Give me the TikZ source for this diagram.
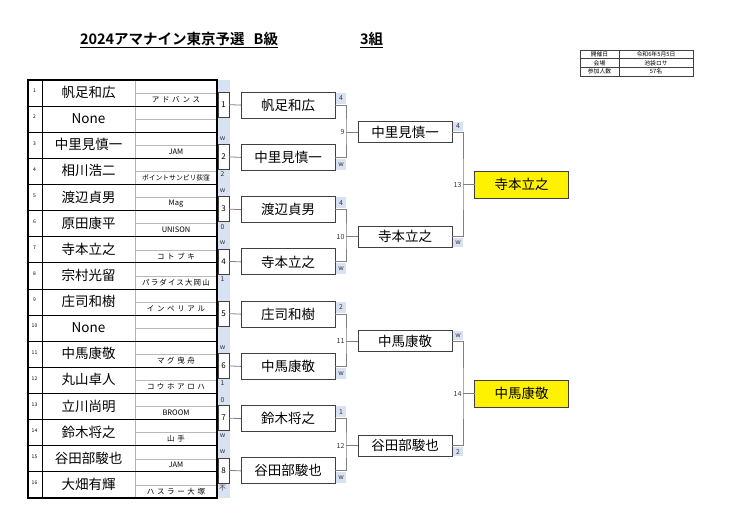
\documentclass[tikz,border=0pt]{standalone}
\usepackage{fontspec}
\setmainfont{Noto Sans CJK JP}[BoldFont={Noto Sans CJK JP Bold}]
\newfontfamily\teamfont{Noto Sans CJK JP}[LetterSpace=35]
\newfontfamily\latteam{Noto Sans CJK JP}
\definecolor{sblue}{HTML}{D9E2F2}
\definecolor{bline}{HTML}{808080}
\definecolor{bbox}{HTML}{404040}
\definecolor{txtgrey}{HTML}{333333}
\begin{document}
\begin{tikzpicture}[x=1pt,y=-1pt,
  every node/.style={inner sep=0pt, outer sep=0pt},
  tline/.style={black, line width=1pt},
  gline/.style={draw=gray!55, line width=0.4pt},
  numlab/.style={font=\fontsize{5}{5}\selectfont},
  namelab/.style={font=\fontsize{13.5}{14}\selectfont},
  teamlab/.style={font=\fontsize{7.5}{8}\selectfont},
  numbox/.style={draw=bbox, fill=white, line width=0.6pt, minimum width=11pt, minimum height=25pt, font=\fontsize{8}{8}\selectfont},
  slab/.style={font=\fontsize{6.8}{7}\selectfont, text=txtgrey},
  rbox/.style={draw=bbox, line width=0.8pt, minimum width=94pt, minimum height=26pt, font=\fontsize{13.5}{14}\selectfont},
  sbox/.style={rbox, minimum height=21pt},
  fbox/.style={rbox, fill=yellow, minimum height=27pt},
  bracket/.style={draw=bline, line width=0.8pt},
  mlab/.style={font=\fontsize{7}{7}\selectfont, text=txtgrey, anchor=east},
  sclab/.style={font=\fontsize{6.8}{7}\selectfont, text=txtgrey},
  infocell/.style={draw=bbox, line width=0.6pt, minimum height=8.67pt, font=\fontsize{5.8}{6}\selectfont},
  titlefont/.style={font=\fontsize{14.5}{15}\selectfont\bfseries}
]
\useasboundingbox (0,0) rectangle (740,523);

% title
\node[titlefont, anchor=base west] (title) at (80,44.5) {\underline{2024アマナイン東京予選\hspace{9pt}B級}};
\node[titlefont, anchor=base west] (group) at (360,44.5) {\underline{3組}};

% info table
\node[infocell, minimum width=39pt] (i11) at (599.5,54.33) {開催日};
\node[infocell, minimum width=74pt] (i12) at (656,54.33) {令和6年5月5日};
\node[infocell, minimum width=39pt] (i21) at (599.5,63) {会場};
\node[infocell, minimum width=74pt] (i22) at (656,63) {池袋ロサ};
\node[infocell, minimum width=39pt] (i31) at (599.5,71.67) {参加人数};
\node[infocell, minimum width=74pt] (i32) at (656,71.67) {57名};

% score strip
\fill[sblue] (217,80) rectangle (229.5,498);

% table grid
\foreach \i in {1,...,16} {
  \pgfmathsetmacro\ym{80+(\i-1)*26.125+13.06}
  \draw[gline] (135,\ym) -- (217,\ym);
}
\draw[gray!60, line width=0.5pt] (135,80) -- (135,498);
\foreach \i in {1,...,15} {
  \pgfmathsetmacro\yb{80+\i*26.125}
  \draw[tline] (28,\yb) -- (217,\yb);
}
\draw[tline] (42,80) -- (42,498);
\draw[black, line width=1.3pt] (28,80) rectangle (217,498);

% rows
\foreach \i/\nm/\tm in {1/帆足和広/{\teamfont アドバンス}, 2/None/{}, 3/中里見慎一/{\latteam JAM}, 4/相川浩二/{\latteam\fontsize{6.8}{7}\selectfont ポイントサンピリ荻窪},
  5/渡辺貞男/{\latteam Mag}, 6/原田康平/{\latteam UNISON}, 7/寺本立之/{\teamfont コトブキ}, 8/宗村光留/{\teamfont\addfontfeatures{LetterSpace=15}パラダイス大岡山},
  9/庄司和樹/{\teamfont インペリアル}, 10/None/{}, 11/中馬康敬/{\teamfont マグ曳舟}, 12/丸山卓人/{\teamfont コウホアロハ},
  13/立川尚明/{\latteam BROOM}, 14/鈴木将之/{\teamfont 山手}, 15/谷田部駿也/{\latteam JAM}, 16/大畑有輝/{\teamfont ハスラー大塚}} {
  \pgfmathsetmacro\yt{80+(\i-1)*26.125}
  \node[numlab] (no\i) at (34.5,\yt+11) {\i};
  \node[namelab] (n\i) at (88.5,\yt+12.5) {\nm};
  \node[teamlab] (t\i) at (176,\yt+19.5) {\tm};
}

% first-round match boxes
\foreach \k/\sa/\sb in {1/{}/{}, 2/w/2, 3/w/0, 4/w/1, 5/{}/{}, 6/w/1, 7/0/w, 8/w/不} {
  \pgfmathsetmacro\c{80+(\k-1)*52.25+26.125}
  \node[numbox] (m\k) at (223.5,\c-1.5) {\k};
  \node[slab] (ta\k) at (222.5,\c-20) {\sa};
  \node[slab] (tb\k) at (222.5,\c+16) {\sb};
}

% second-round boxes
\foreach \k/\nm/\sc in {1/帆足和広/4, 2/中里見慎一/w, 3/渡辺貞男/4, 4/寺本立之/w, 5/庄司和樹/2, 6/中馬康敬/w, 7/鈴木将之/1, 8/谷田部駿也/w} {
  \pgfmathsetmacro\c{105.125+(\k-1)*52.25}
  \pgfmathsetmacro\dir{ifthenelse(mod(\k,2)==1,-1,1)}
  \node[rbox] (r\k) at (288,\c) {\nm};
  \draw[bracket] (m\k.east) -- (r\k.west);
  \fill[sblue] (335.6,{\c+\dir*1.5}) rectangle (346,{\c+\dir*12.2});
  \node[sclab] (rs\k) at (341,{\c+\dir*7}) {\sc};
}

% third-round boxes
\foreach \j/\nm/\sc/\y in {1/中里見慎一/4/132.25, 2/寺本立之/w/236.75, 3/中馬康敬/w/341.25, 4/谷田部駿也/2/445.75} {
  \pgfmathsetmacro\dir{ifthenelse(mod(\j,2)==1,-1,1)}
  \node[sbox] (s\j) at (405,\y) {\nm};
  \fill[sblue] (452.6,{\y+\dir*1.5}) rectangle (463,{\y+\dir*10.2});
  \node[sclab] (ss\j) at (458,{\y+\dir*6}) {\sc};
}

% finals
\node[fbox] (f1) at (521.5,184.5) {寺本立之};
\node[fbox] (f2) at (521.5,393.5) {中馬康敬};

% brackets round 2
\foreach \j/\ma/\mb/\mm in {1/1/2/9, 2/3/4/10, 3/5/6/11, 4/7/8/12} {
  \coordinate (j\mm) at (346, {105.125+(2*\j-2)*52.25+27.125});
  \draw[bracket] (r\ma.east) -| (j\mm) |- (r\mb.east);
  \draw[bracket] (j\mm) -- (s\j.west);
  \node[mlab] (lab\mm) at ([xshift=-1.5pt]j\mm) {\mm};
}

% brackets round 3
\coordinate (j13) at (463,184.5);
\coordinate (j14) at (463,393.5);
\draw[bracket] (s1.east) -| (j13) |- (s2.east);
\draw[bracket] (j13) -- (f1.west);
\draw[bracket] (s3.east) -| (j14) |- (s4.east);
\draw[bracket] (j14) -- (f2.west);
\node[mlab] (lab13) at ([xshift=-1.5pt]j13) {13};
\node[mlab] (lab14) at ([xshift=-1.5pt]j14) {14};
\end{tikzpicture}
\end{document}
